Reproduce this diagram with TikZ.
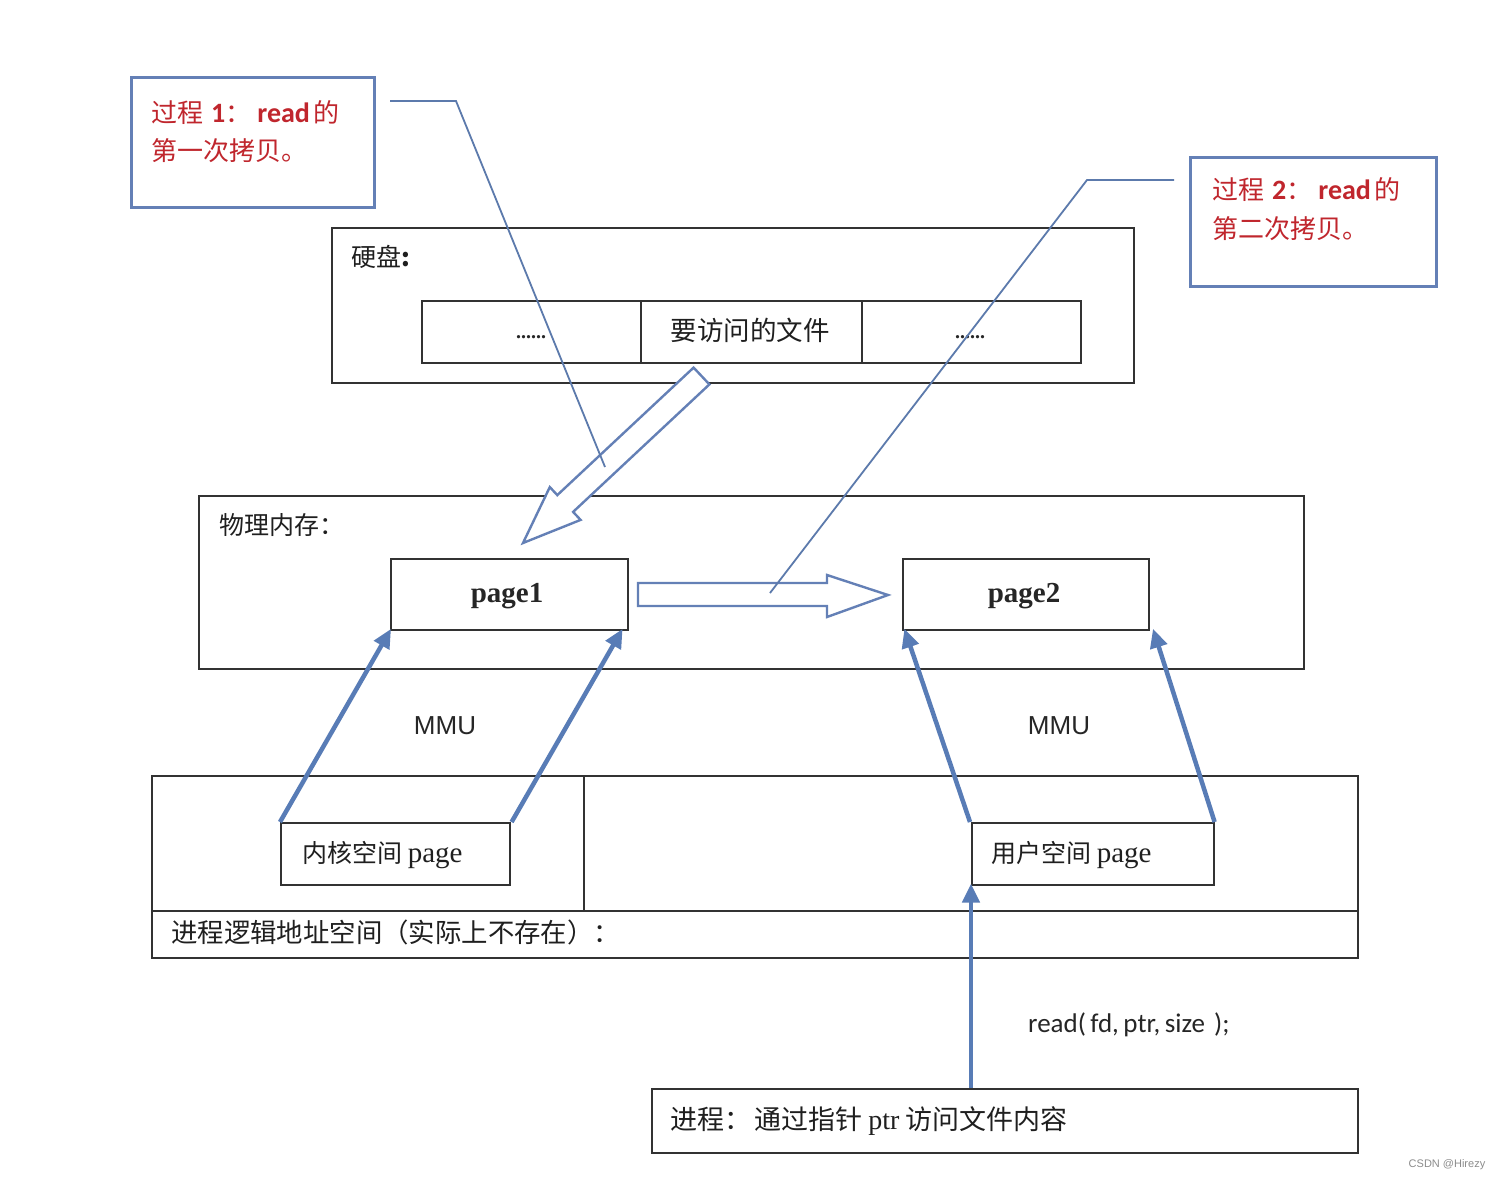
\documentclass[tikz,border=0pt]{standalone}
\usepackage{fontspec}
\setmainfont{Liberation Serif}
\newfontfamily\cjk{Noto Sans CJK SC}
\newfontfamily\lsans{Liberation Sans}
\newfontfamily\carl{Carlito}
\usetikzlibrary{arrows.meta}
\definecolor{boxline}{RGB}{50,50,50}
\definecolor{callblue}{RGB}{100,128,182}
\definecolor{leadblue}{RGB}{92,122,172}
\definecolor{arrblue}{RGB}{88,124,182}
\definecolor{callred}{RGB}{192,38,45}
\tikzset{
  box/.style={draw=boxline, line width=1.6pt, anchor=north west, inner sep=0pt, fill=white},
  callbox/.style={draw=callblue, line width=2.8pt, anchor=north west, inner sep=0pt},
  lead/.style={draw=leadblue, line width=1.8pt},
  marr/.style={draw=arrblue, line width=4.5pt, -{Triangle[length=19pt,width=17pt]}, shorten >=-2pt},
  hollow/.style={draw=callblue, line width=2.4pt, fill=white, line join=miter},
  cjktxt/.style={font=\cjk\fontsize{25}{30}\selectfont, text=black!88, inner sep=0pt},
  redtxt/.style={font=\cjk\fontsize{26}{30}\selectfont, text=callred, inner sep=0pt, anchor=west},
}
\begin{document}
\begin{tikzpicture}[x=1pt,y=-1pt]
\useasboundingbox[fill=white] (0,0) rectangle (1500,1181);

% hard disk
\node[box, minimum width=802pt, minimum height=155pt] (hd) at (331,227) {};
\node[cjktxt, anchor=west] (hdl) at (351,257) {硬盘\textbf{:}};
\node[box, minimum width=219pt, minimum height=62pt] (f1) at (421,300) {};
\node[box, minimum width=221pt, minimum height=62pt] (f2) at (640,300) {};
\node[box, minimum width=219pt, minimum height=62pt] (f3) at (861,300) {};
\node[font=\bfseries\fontsize{20}{24}\selectfont, inner sep=0pt, text=black!85] (d1) at (531,337) {......};
\node[cjktxt, font=\cjk\fontsize{26.5}{30}\selectfont] (ft) at (750,330) {要访问的文件};
\node[font=\bfseries\fontsize{20}{24}\selectfont, inner sep=0pt, text=black!85] (d3) at (970,337) {......};

% physical memory
\node[box, minimum width=1105pt, minimum height=173pt] (pm) at (198,495) {};
\node[cjktxt, anchor=west] (pml) at (219,525) {物理内存：};
\node[box, minimum width=237pt, minimum height=71pt] (p1) at (390,558) {};
\node[font=\bfseries\fontsize{29}{34}\selectfont, inner sep=0pt, text=black!85] (p1t) at (507,596) {page1};
\node[box, minimum width=246pt, minimum height=71pt] (p2) at (902,558) {};
\node[font=\bfseries\fontsize{29}{34}\selectfont, inner sep=0pt, text=black!85] (p2t) at (1024,596) {page2};

% MMU labels
\node[font=\lsans\fontsize{26}{30}\selectfont, inner sep=0pt, text=black!85] (mmu1) at (445,726) {MMU};
\node[font=\lsans\fontsize{26}{30}\selectfont, inner sep=0pt, text=black!85] (mmu2) at (1059,726) {MMU};

% process logical address space
\node[box, minimum width=432pt, minimum height=135pt] (la) at (151,775) {};
\node[box, minimum width=774pt, minimum height=135pt] (lb) at (583,775) {};
\node[box, minimum width=1206pt, minimum height=47pt] (lc) at (151,910) {};
\node[cjktxt, font=\cjk\fontsize{26.4}{30}\selectfont, anchor=west] (lcl) at (171,932) {进程逻辑地址空间（实际上不存在）：};
\node[box, minimum width=229pt, minimum height=62pt] (kp) at (280,822) {};
\node[cjktxt, anchor=west] (kpt) at (302,855) {内核空间 {\rmfamily\fontsize{29}{30}\selectfont page}};
\node[box, minimum width=242pt, minimum height=62pt] (up) at (971,822) {};
\node[cjktxt, anchor=west] (upt) at (991,855) {用户空间 {\rmfamily\fontsize{29}{30}\selectfont page}};

% process box
\node[box, minimum width=706pt, minimum height=64pt] (pr) at (651,1088) {};
\node[cjktxt, font=\cjk\fontsize{27}{30}\selectfont, anchor=west] (prt) at (670,1121) {进程：\hspace{3pt}通过指针 {\rmfamily\fontsize{28}{30}\selectfont ptr} 访问文件内容};
\node[font=\carl\fontsize{27}{30}\selectfont, inner sep=0pt, anchor=west, text=black!85] (rd) at (1028,1025) {read(\,fd,\,ptr,\,size\,\,);};

% callouts
\node[callbox, minimum width=243pt, minimum height=130pt] (c1) at (130,76) {};
\node[redtxt] (c1a) at (151,113) {过程\hspace{8pt}{\carl\bfseries\fontsize{28}{30}\selectfont 1}：\hspace{6pt}{\carl\bfseries\fontsize{28}{30}\selectfont read}\hspace{4pt}的};
\node[redtxt] (c1b) at (151,151) {第一次拷贝。};
\node[callbox, minimum width=246pt, minimum height=129pt] (c2) at (1189,156) {};
\node[redtxt] (c2a) at (1212,190) {过程\hspace{8pt}{\carl\bfseries\fontsize{28}{30}\selectfont 2}：\hspace{6pt}{\carl\bfseries\fontsize{28}{30}\selectfont read}\hspace{4pt}的};
\node[redtxt] (c2b) at (1212,229) {第二次拷贝。};

% hollow block arrows
\draw[hollow] (709.4,384.4) -- (693.6,367.6) -- (557.3,495.1) -- (549.8,487.1)
  -- (523,543) -- (580.6,519.9) -- (573.1,511.9) -- cycle;
\draw[hollow] (638,583) -- (827,583) -- (827,575) -- (888,595) -- (827,617)
  -- (827,606) -- (638,606) -- cycle;

% leader lines
\coordinate (l1s) at (390,101);
\coordinate (l1k) at (456,101);
\coordinate (l1e) at (605,467);
\draw[lead] (l1s) -- (l1k) -- (l1e);
\coordinate (l2s) at (1174,180);
\coordinate (l2k) at (1087,180);
\coordinate (l2e) at (770,593);
\draw[lead] (l2s) -- (l2k) -- (l2e);

% MMU mapping arrows
\draw[marr] (kp.north west) -- (p1.south west);
\draw[marr] ([xshift=1pt]kp.north east) -- ([xshift=-7pt]p1.south east);
\draw[marr] ([xshift=-1pt]up.north west) -- ([xshift=3pt]p2.south west);
\draw[marr] (up.north east) -- ([xshift=4pt]p2.south east);
\draw[marr] (pr.north west -| up.west) -- (up.south west);

% watermark
\node[font=\lsans\fontsize{11}{13}\selectfont, text=black!45, inner sep=0pt] (wm) at (1447,1165) {CSDN @Hirezy};
\end{tikzpicture}
\end{document}
